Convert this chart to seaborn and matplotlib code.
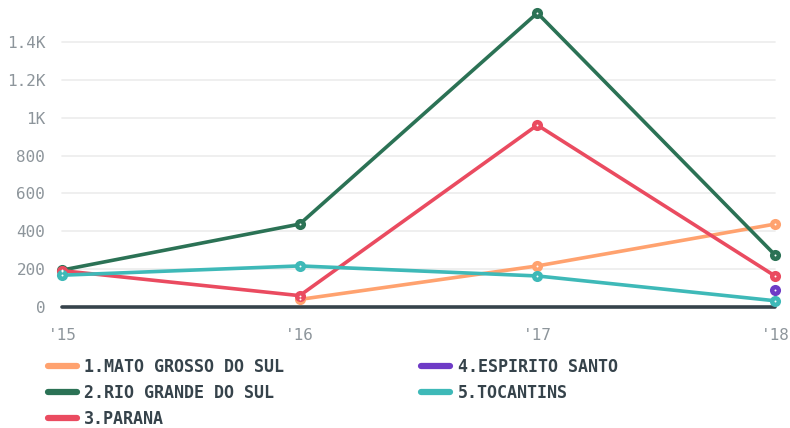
import pandas as pd
import seaborn as sns
import matplotlib.pyplot as plt
from matplotlib.lines import Line2D
from matplotlib.ticker import FuncFormatter

# data
years = [2015, 2016, 2017, 2018]
year_labels = ["'15", "'16", "'17", "'18"]
mato_grosso = [None, 40, 217, 438]
rio_grande = [195, 438, 1553, 275]
parana = [192, 60, 961, 164]
espirito = [None, None, None, 90]
tocantins = [168, 217, 164, 33]

names = ['1.MATO GROSSO DO SUL', '2.RIO GRANDE DO SUL', '3.PARANA',
         '4.ESPIRITO SANTO', '5.TOCANTINS']
colors = ['#ffa26f', '#2b7255', '#ea4b60', '#6e3bc6', '#3eb9b8']

rows = []
for n, vals in zip(names, [mato_grosso, rio_grande, parana, espirito, tocantins]):
    for y, v in zip(years, vals):
        if v is not None:
            rows.append({'year': y, 'value': v, 'state': n})
df = pd.DataFrame(rows)

sns.set_style('white')
plt.rcParams['font.family'] = ['DejaVu Sans Mono', 'DejaVu Sans']

fig = plt.figure(figsize=(7.9, 4.28), dpi=100)
ax = fig.add_axes([0.0785, 0.2827, 0.9025, 0.69])

for y in [200, 400, 600, 800, 1000, 1200, 1400]:
    ax.axhline(y, color='#ececec', lw=1.2, zorder=0)
ax.axhline(0, color='#36434b', lw=2.6, zorder=1)

sns.lineplot(data=df, x='year', y='value', hue='state', hue_order=names,
             palette=colors, lw=2.6, marker='o', markersize=8,
             markeredgewidth=0, legend=False, ax=ax, zorder=3)
for l in ax.lines:
    l.set_clip_on(False)
# little white centres on the markers
ax.scatter(df['year'], df['value'], s=2, linewidths=0, color='white',
           zorder=4, clip_on=False)

ax.set_xlim(2015, 2018)
ax.set_ylim(0, 1560)
ax.set_xticks(years)
ax.set_xticklabels(year_labels)
ax.set_yticks([0, 200, 400, 600, 800, 1000, 1200, 1400])
ax.yaxis.set_major_formatter(FuncFormatter(
    lambda v, p: ('%gK' % (v / 1000)) if v >= 1000 else '%d' % v))
ax.tick_params(axis='both', length=0, labelsize=11.5, labelcolor='#8d959b')
ax.tick_params(axis='x', pad=15)
ax.tick_params(axis='y', pad=12)
ax.set_xlabel('')
ax.set_ylabel('')
for s in ax.spines.values():
    s.set_visible(False)
ax.patch.set_alpha(0)

handles = [Line2D([0], [0], color=c, lw=4.5) for c in colors]
leg = fig.legend(handles, names, loc='upper left', bbox_to_anchor=(0.052, 0.18),
                 ncol=2, frameon=False, handlelength=1.75, handletextpad=0.45,
                 columnspacing=8.2, labelspacing=0.5, borderaxespad=0,
                 prop={'family': 'DejaVu Sans Mono', 'weight': 'bold', 'size': 12})
for t in leg.get_texts():
    t.set_color('#36434b')

fig.savefig('out.png', dpi=100)
